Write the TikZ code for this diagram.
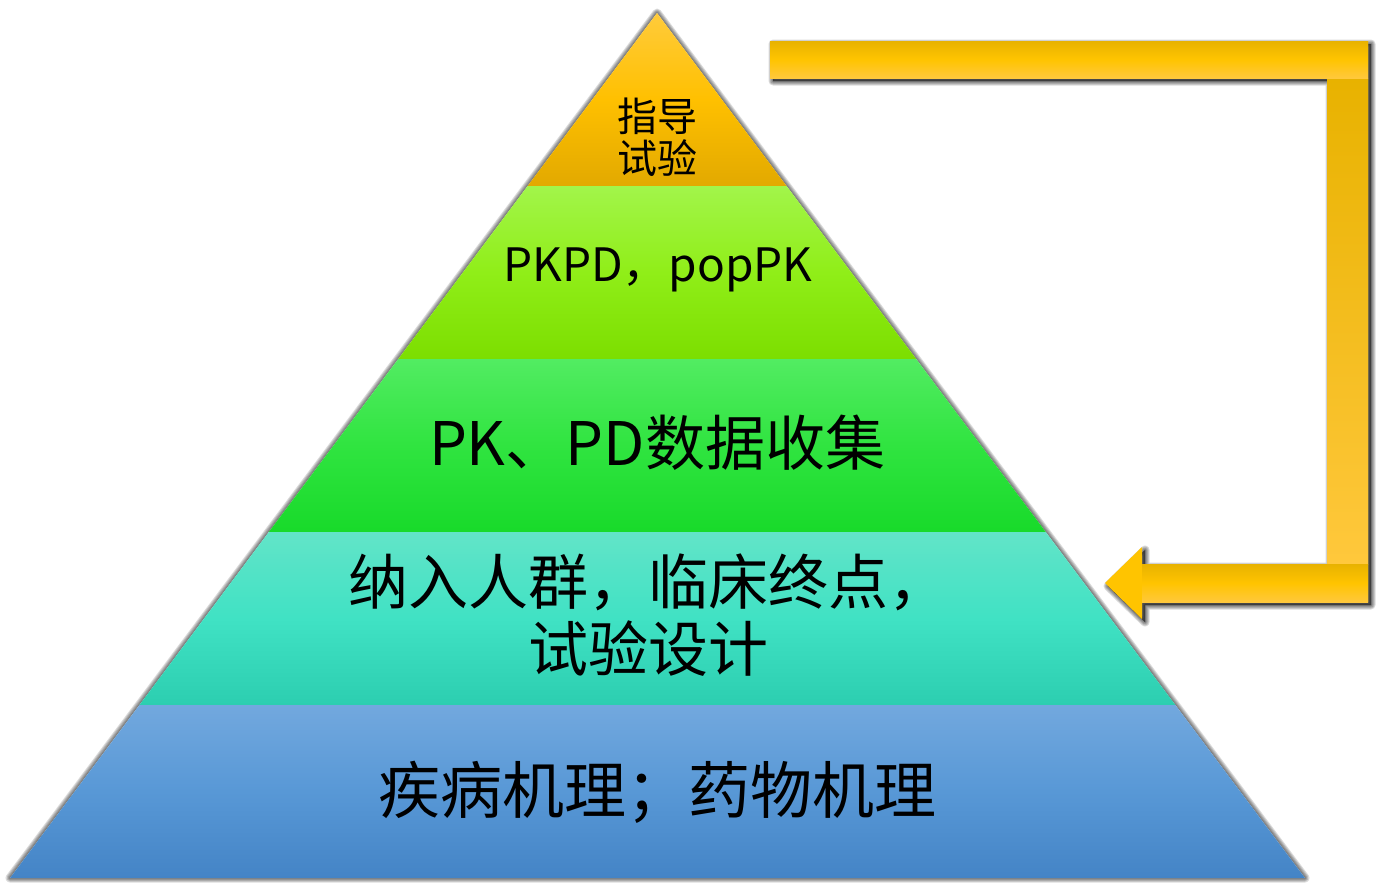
\documentclass[tikz,border=0pt]{standalone}
\usepackage{fontspec}
\setmainfont{Noto Sans CJK SC}
\usetikzlibrary{calc}

\definecolor{guideA}{HTML}{FFCB3B}
\definecolor{guideM}{HTML}{FFC000}
\definecolor{guideB}{HTML}{E2A900}
\definecolor{modelA}{HTML}{A2F54A}
\definecolor{modelM}{HTML}{90EE18}
\definecolor{modelB}{HTML}{7CDE00}
\definecolor{dataA}{HTML}{52EC62}
\definecolor{dataM}{HTML}{30E440}
\definecolor{dataB}{HTML}{18DA2A}
\definecolor{designA}{HTML}{62E4C8}
\definecolor{designM}{HTML}{40E2C4}
\definecolor{designB}{HTML}{2CCEB0}
\definecolor{basisA}{HTML}{72A8DE}
\definecolor{basisM}{HTML}{5898D6}
\definecolor{basisB}{HTML}{4484C6}
\definecolor{goldA}{HTML}{E8B200}
\definecolor{goldM}{HTML}{FFC400}
\definecolor{goldB}{HTML}{FFC83C}

\begin{document}
\begin{tikzpicture}[x=1pt,y=-1pt,
    lbl/.style={align=center,text=black,inner sep=0pt},
    blur/.style={draw=black,opacity=0.14,line join=round,shift={(3,3)}}]

    \useasboundingbox (0,0) rectangle (1378,889);

    \coordinate (apex) at (657,13);
    \coordinate (bl) at (10,878);
    \coordinate (br) at (1305,878);

    % soft shadows
    \foreach \w in {1,3,5,7,9}{
        \filldraw[blur,line width=\w pt] (apex) -- (br) -- (bl) -- cycle;
        \filldraw[blur,line width=\w pt] (770,41) -- (1368,41) -- (1368,602) -- (1142,602) -- (1142,619)
            -- (1105,583) -- (1142,547) -- (1142,564) -- (1327,564) -- (1327,78) -- (770,78) -- cycle;
    }
    \fill[white] (apex) -- (br) -- (bl) -- cycle;

    % the five bands
    \foreach \t/\u/\ca/\cm/\cb in {0/0.2/guideA/guideM/guideB,
                                  0.2/0.4/modelA/modelM/modelB,
                                  0.4/0.6/dataA/dataM/dataB,
                                  0.6/0.8/designA/designM/designB,
                                  0.8/1/basisA/basisM/basisB}
        \shade[top color=\ca,bottom color=\cb,middle color=\cm]
            ($(apex)!\t!(bl)$) -- ($(apex)!\t!(br)$) -- ($(apex)!\u!(br)$) -- ($(apex)!\u!(bl)$) -- cycle;

    \node[lbl,font=\fontsize{40}{42}\selectfont] (guide) at (657,137) {指导\\试验};
    \node[lbl,font=\fontsize{46}{50}\selectfont] (model) at (658,270) {PKPD，popPK};
    \node[lbl,font=\fontsize{60}{64}\selectfont] (data) at (657,443) {PK、PD数据收集};
    \node[lbl,font=\fontsize{60}{67}\selectfont] (design) at (648,615) {纳入人群，临床终点，\\试验设计};
    \node[lbl,font=\fontsize{62}{64}\selectfont] (basis) at (657,792) {疾病机理；药物机理};

    % feedback arrow
    \fill[goldM] (770,41) -- (1368,41) -- (1368,602) -- (1142,602) -- (1142,619)
        -- (1105,583) -- (1142,547) -- (1142,564) -- (1327,564) -- (1327,78) -- (770,78) -- cycle;
    \shade[top color=goldA,bottom color=goldB] (1327,78) rectangle (1368,564);
    \shade[top color=goldA,bottom color=goldB,middle color=goldM] (770,41) rectangle (1368,78);
    \shade[top color=goldA,bottom color=goldB,middle color=goldM] (1142,564) rectangle (1368,602);

\end{tikzpicture}
\end{document}
